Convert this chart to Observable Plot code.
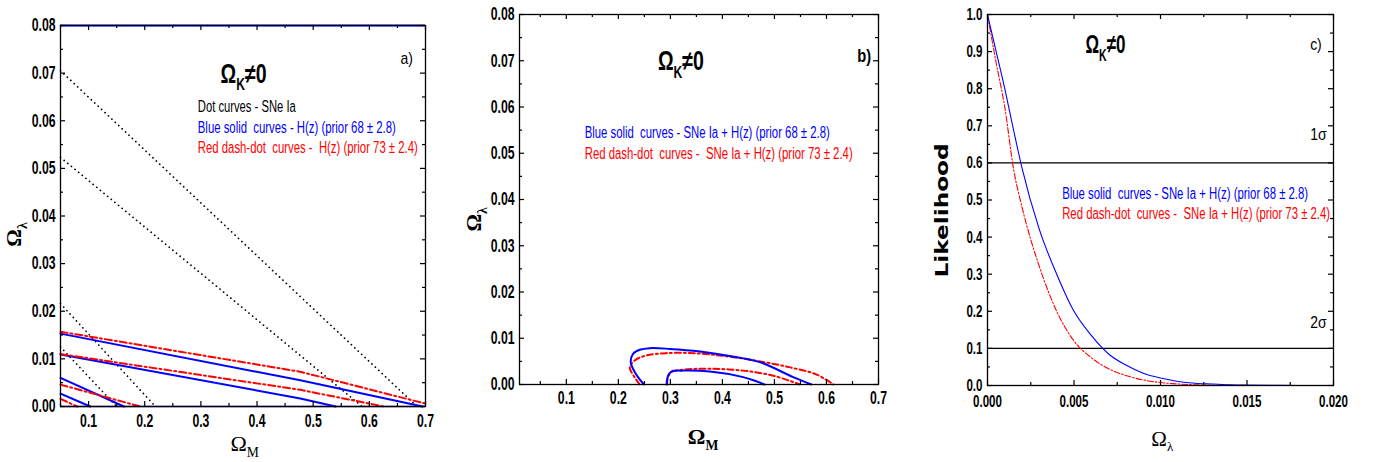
<!DOCTYPE html>
<html><head><meta charset="utf-8">
<script src="https://cdn.jsdelivr.net/npm/d3@7"></script>
<script src="https://cdn.jsdelivr.net/npm/@observablehq/plot@0.6"></script>
<style>
body{margin:0;background:#fff;}
#wrap{position:relative;width:1373px;height:462px;overflow:hidden;background:#fff;}
.panel{position:absolute;top:0;}
.panel svg{overflow:visible;}
</style></head><body><div id="wrap"></div>
<script>
// ---------------- data ----------------
// tick values
const omegaMTicks = [0.1, 0.2, 0.3, 0.4, 0.5, 0.6, 0.7];
const omegaMMinor = [0.05, 0.15, 0.25, 0.35, 0.45, 0.55, 0.65];
const omegaLTicks = [0, 0.01, 0.02, 0.03, 0.04, 0.05, 0.06, 0.07, 0.08];
const omegaLMinor = [0.005, 0.015, 0.025, 0.035, 0.045, 0.055, 0.065, 0.075];
const lambdaTicks = [0, 0.005, 0.010, 0.015, 0.020];
const lambdaMinor = [0.0025, 0.0075, 0.0125, 0.0175];
const likeTicks = [0, 0.1, 0.2, 0.3, 0.4, 0.5, 0.6, 0.7, 0.8, 0.9, 1.0];
const likeMinor = [0.05, 0.15, 0.25, 0.35, 0.45, 0.55, 0.65, 0.75, 0.85, 0.95];
const sigmaLevels = [0.6, 0.1];

// panel a) : SNe Ia dotted contours
const aSNe1 = [[0.05, 0.0705], [0.685, 0.0]];
const aSNe2 = [[0.05, 0.0523], [0.587, 0.0]];
const aSNe3 = [[0.05, 0.0216], [0.219, 0.0]];
const aSNe4 = [[0.05, 0.0125], [0.150, 0.0]];
// panel a) : H(z) prior 68 +- 2.8 (blue solid)
const aH68_1 = [[0.05, 0.0153], [0.477, 0.0055], [0.695, 0.0]];
const aH68_2 = [[0.05, 0.0109], [0.477, 0.0017], [0.540, 0.0]];
const aH68_3 = [[0.05, 0.0060], [0.163, 0.0]];
const aH68_4 = [[0.05, 0.0027], [0.103, 0.0]];
// panel a) : H(z) prior 73 +- 2.4 (red dash-dot)
const aH73_1 = [[0.05, 0.0157], [0.477, 0.0073], [0.700, 0.0006]];
const aH73_2 = [[0.05, 0.0110], [0.477, 0.0035], [0.626, 0.0]];
const aH73_3 = [[0.05, 0.0046], [0.192, 0.0]];
const aH73_4 = [[0.05, 0.0016], [0.080, 0.0]];

// panel b) : SNe Ia + H(z)
const bH68_outer = [[0.249, 0], [0.2316, 0.00266], [0.2238, 0.00483], [0.2283, 0.00664], [0.2412, 0.0075], [0.2605, 0.00786], [0.299, 0.0077], [0.357, 0.00714], [0.408, 0.00628], [0.472, 0.00483], [0.536, 0.00158], [0.571, 0]];
const bH68_inner = [[0.2937, 0], [0.2957, 0.00195], [0.302, 0.0028], [0.3245, 0.0030], [0.376, 0.0028], [0.440, 0.0016], [0.465, 0.0007], [0.481, 0]];
const bH73_outer = [[0.241, 0], [0.2252, 0.00266], [0.222, 0.0037], [0.2315, 0.0052], [0.254, 0.00628], [0.2926, 0.00678], [0.344, 0.00678], [0.408, 0.0061], [0.472, 0.0050], [0.530, 0.0037], [0.580, 0.0022], [0.6134, 0]];
const bH73_inner = [[0.2924, 0], [0.294, 0.0012], [0.302, 0.00266], [0.3245, 0.0032], [0.376, 0.0034], [0.440, 0.0030], [0.498, 0.0019], [0.549, 0]];

// panel c) : likelihood of Omega_lambda
const cLambda = [0, 0.0005, 0.001, 0.0015, 0.002, 0.003, 0.004, 0.005, 0.006, 0.007, 0.008, 0.009, 0.010, 0.011, 0.012, 0.013, 0.014, 0.015, 0.017, 0.019];
const cLike68 = [1.0, 0.90, 0.80, 0.69, 0.585, 0.42, 0.30, 0.20, 0.135, 0.085, 0.055, 0.033, 0.020, 0.011, 0.006, 0.004, 0.002, 0.001, 0.0003, 0.0];
const cLike73 = [1.0, 0.87, 0.75, 0.585, 0.48, 0.32, 0.20, 0.12, 0.075, 0.045, 0.027, 0.015, 0.008, 0.004, 0.002, 0.001, 0.0005, 0.0002, 0.0, 0.0];

// texts
const titleText = "Ω_{K}≠0";
const legendA = ["Dot curves - SNe Ia", "Blue solid  curves - H(z) (prior 68 ± 2.8)", "Red dash-dot  curves -  H(z) (prior 73 ± 2.4)"];
const legendBC = ["Blue solid  curves - SNe Ia + H(z) (prior 68 ± 2.8)", "Red dash-dot  curves -  SNe Ia + H(z) (prior 73 ± 2.4)"];

// ---------------- helpers ----------------
const NARROW = "'Liberation Sans Narrow','Arial Narrow','Liberation Sans',Arial,sans-serif";
const SERIF = "'Liberation Serif','Times New Roman',serif";
const BLUE = "#0000ff", RED = "#ff0000";

const toRows = (pts, key) => pts.map(([x, y]) => ({x, y, key}));

function frameTicks(xMaj, xMin, yMaj, yMin, W, H) {
  const L = 5, S = 3, sw = 1.2;
  return [
    Plot.ruleX(xMaj, {x: d => d, insetTop: H - L, strokeWidth: sw}),
    Plot.ruleX(xMaj, {x: d => d, insetBottom: H - L, strokeWidth: sw}),
    Plot.ruleX(xMin, {x: d => d, insetTop: H - S, strokeWidth: sw}),
    Plot.ruleX(xMin, {x: d => d, insetBottom: H - S, strokeWidth: sw}),
    Plot.ruleY(yMaj, {y: d => d, insetRight: W - L, strokeWidth: sw}),
    Plot.ruleY(yMaj, {y: d => d, insetLeft: W - L, strokeWidth: sw}),
    Plot.ruleY(yMin, {y: d => d, insetRight: W - S, strokeWidth: sw}),
    Plot.ruleY(yMin, {y: d => d, insetLeft: W - S, strokeWidth: sw})
  ];
}

// turn "A_{b}C" into tspans with subscripts
function richText(svg) {
  svg.querySelectorAll("text").forEach(t => {
    const s = t.textContent;
    if (!s.includes("_{")) return;
    const fs = parseFloat(getComputedStyle(t).fontSize) || 16;
    const ratio = 0.62;
    const shift = fs * 0.28;
    while (t.firstChild) t.removeChild(t.firstChild);
    const parts = s.split(/(_\{[^}]*\})/).filter(p => p.length);
    let down = false;
    for (const p of parts) {
      const ts = document.createElementNS("http://www.w3.org/2000/svg", "tspan");
      if (p.startsWith("_{")) {
        ts.textContent = p.slice(2, -1);
        ts.setAttribute("font-size", fs * ratio);
        ts.setAttribute("dy", shift);
        down = true;
      } else {
        ts.textContent = p;
        if (down) { ts.setAttribute("dy", -shift); down = false; }
      }
      t.appendChild(ts);
    }
  });
}

// emulate a condensed face: squeeze narrow-family texts horizontally
function narrowFit(svg, targets) {
  svg.querySelectorAll("text").forEach(t => {
    const key = t.textContent;
    const len = t.getComputedTextLength();
    let w = null;
    if (key in targets) w = targets[key];
    else if (getComputedStyle(t).fontFamily.includes("Narrow")) {
      w = len * (t.closest('[aria-label$="tick label"]') ? 0.68 : 0.82);
    }
    if (w != null && len > 0) {
      t.setAttribute("textLength", w);
      t.setAttribute("lengthAdjust", "spacingAndGlyphs");
    }
  });
}

function place(plot, left, targets) {
  const div = document.createElement("div");
  div.className = "panel";
  div.style.left = left + "px";
  div.appendChild(plot);
  document.getElementById("wrap").appendChild(div);
  richText(plot);
  narrowFit(plot, targets);
}

const tickFont = {fontWeight: "bold", fontSize: 18, fontFamily: NARROW};
const TITLE = "ΩK≠0";

// ---------------- panel a ----------------
{
  const W = 460, H = 462, mL = 60, mR = 35, mT = 25, mB = 56;
  const fw = W - mL - mR, fh = H - mT - mB;
  const dots = [aSNe1, aSNe2, aSNe3, aSNe4].flatMap((p, i) => toRows(p, "s" + i));
  const blues = [aH68_1, aH68_2, aH68_3, aH68_4].flatMap((p, i) => toRows(p, "b" + i));
  const reds = [aH73_1, aH73_2, aH73_3, aH73_4].flatMap((p, i) => toRows(p, "r" + i));
  const plot = Plot.plot({
    width: W, height: H, marginLeft: mL, marginRight: mR, marginTop: mT, marginBottom: mB,
    x: {domain: [0.05, 0.7]}, y: {domain: [0, 0.08]},
    style: {background: "white", color: "black"},
    marks: [
      Plot.line(dots, {x: "x", y: "y", z: "key", stroke: "black", strokeWidth: 1.7, strokeDasharray: "0.1,4.6", strokeLinecap: "round"}),
      Plot.line(blues, {x: "x", y: "y", z: "key", stroke: BLUE, strokeWidth: 2}),
      Plot.line(reds, {x: "x", y: "y", z: "key", stroke: RED, strokeWidth: 2, strokeDasharray: "7,3,2,3"}),
      Plot.ruleY([0.08], {stroke: BLUE, strokeWidth: 2.2}),
      Plot.ruleY([0], {stroke: "#1010a0", strokeWidth: 1.6}),
      Plot.frame({stroke: "black", strokeWidth: 1.3}),
      ...frameTicks(omegaMTicks, omegaMMinor, omegaLTicks, omegaLMinor, fw, fh),
      Plot.axisX({ticks: omegaMTicks, tickSize: 0, tickPadding: 8, tickFormat: d3.format(".1f"), label: null, ...tickFont}),
      Plot.axisY({ticks: omegaLTicks, tickSize: 0, tickPadding: 5, tickFormat: d3.format(".2f"), label: null, ...tickFont}),
      Plot.text([titleText], {x: 0.335, y: 0.068, text: d => d, textAnchor: "start", lineAnchor: "bottom", fontSize: 27, fontWeight: "bold", fontFamily: NARROW}),
      Plot.text(["a)"], {x: 0.6555, y: 0.072, text: d => d, textAnchor: "start", lineAnchor: "bottom", fontSize: 17, fontFamily: NARROW}),
      Plot.text(legendA, {x: 0.2945, y: (d, i) => [0.0618, 0.0574, 0.0532][i], text: d => d, fill: ["black", BLUE, RED], textAnchor: "start", lineAnchor: "bottom", fontSize: 16, fontFamily: NARROW}),
      Plot.text(["Ω_{M}"], {x: 0.3527, frameAnchor: "bottom", dy: 44, text: d => d, textAnchor: "start", lineAnchor: "bottom", fontSize: 22, fontFamily: SERIF}),
      Plot.text(["Ω_{λ}"], {y: 0.0361, frameAnchor: "left", dx: -40, text: d => d, rotate: -90, textAnchor: "middle", lineAnchor: "bottom", fontSize: 22, fontWeight: "bold", fontFamily: SERIF})
    ]
  });
  place(plot, 0, {[TITLE]: 46, [legendA[0]]: 98, [legendA[1]]: 198, [legendA[2]]: 220});
}

// ---------------- panel b ----------------
{
  const W = 460, H = 462, mL = 59, mR = 42, mT = 14, mB = 78;
  const fw = W - mL - mR, fh = H - mT - mB;
  const blues = [bH68_outer, bH68_inner].flatMap((p, i) => toRows(p, "b" + i));
  const reds = [bH73_outer, bH73_inner].flatMap((p, i) => toRows(p, "r" + i));
  const plot = Plot.plot({
    width: W, height: H, marginLeft: mL, marginRight: mR, marginTop: mT, marginBottom: mB,
    x: {domain: [0.01, 0.7]}, y: {domain: [0, 0.08]},
    style: {background: "white", color: "black"},
    marks: [
      Plot.line(reds, {x: "x", y: "y", z: "key", stroke: RED, strokeWidth: 2, strokeDasharray: "6,3,2,3", curve: "catmull-rom"}),
      Plot.line(blues, {x: "x", y: "y", z: "key", stroke: BLUE, strokeWidth: 2, curve: "catmull-rom"}),
      Plot.frame({stroke: "black", strokeWidth: 1.3}),
      ...frameTicks(omegaMTicks, omegaMMinor, omegaLTicks, omegaLMinor, fw, fh),
      Plot.axisX({ticks: omegaMTicks, tickSize: 0, tickPadding: 7, tickFormat: d3.format(".1f"), label: null, ...tickFont}),
      Plot.axisY({ticks: omegaLTicks, tickSize: 0, tickPadding: 5, tickFormat: d3.format(".2f"), label: null, ...tickFont}),
      Plot.text([titleText], {x: 0.276, y: 0.0679, text: d => d, textAnchor: "start", lineAnchor: "bottom", fontSize: 27, fontWeight: "bold", fontFamily: NARROW}),
      Plot.text(["b)"], {x: 0.659, y: 0.0697, text: d => d, textAnchor: "start", lineAnchor: "bottom", fontSize: 18, fontWeight: "bold", fontFamily: NARROW}),
      Plot.text(legendBC, {x: 0.1353, y: (d, i) => [0.0532, 0.0488][i], text: d => d, fill: [BLUE, RED], textAnchor: "start", lineAnchor: "bottom", fontSize: 16, fontFamily: NARROW}),
      Plot.text(["Ω_{M}"], {x: 0.3336, frameAnchor: "bottom", dy: 59, text: d => d, textAnchor: "start", lineAnchor: "bottom", fontSize: 22, fontWeight: "bold", fontFamily: SERIF}),
      Plot.text(["Ω_{λ}"], {y: 0.0357, frameAnchor: "left", dx: -39, text: d => d, rotate: -90, textAnchor: "middle", lineAnchor: "bottom", fontSize: 22, fontWeight: "bold", fontFamily: SERIF})
    ]
  });
  place(plot, 460, {[TITLE]: 46, [legendBC[0]]: 245, [legendBC[1]]: 268});
}

// ---------------- panel c ----------------
{
  const W = 458, H = 462, mL = 72, mR = 40, mT = 14, mB = 77;
  const fw = W - mL - mR, fh = H - mT - mB;
  const rows68 = cLambda.map((x, i) => ({x, y: cLike68[i]}));
  const rows73 = cLambda.map((x, i) => ({x, y: cLike73[i]}));
  const plot = Plot.plot({
    width: W, height: H, marginLeft: mL, marginRight: mR, marginTop: mT, marginBottom: mB,
    x: {domain: [0, 0.02]}, y: {domain: [0, 1]},
    style: {background: "white", color: "black"},
    marks: [
      Plot.ruleY(sigmaLevels, {stroke: "black", strokeWidth: 1.3}),
      Plot.line(rows73, {x: "x", y: "y", stroke: RED, strokeWidth: 1.1, strokeDasharray: "6,2,1.5,2", curve: "monotone-x"}),
      Plot.line(rows68, {x: "x", y: "y", stroke: BLUE, strokeWidth: 1.1, curve: "monotone-x"}),
      Plot.frame({stroke: "black", strokeWidth: 1.3}),
      ...frameTicks(lambdaTicks, lambdaMinor, likeTicks, likeMinor, fw, fh),
      Plot.axisX({ticks: lambdaTicks, tickSize: 0, tickPadding: 9, tickFormat: d3.format(".3f"), label: null, fontWeight: "bold", fontSize: 17, fontFamily: NARROW}),
      Plot.axisY({ticks: likeTicks, tickSize: 0, tickPadding: 5, tickFormat: d3.format(".1f"), label: null, fontWeight: "bold", fontSize: 17, fontFamily: NARROW}),
      Plot.text([titleText], {x: 0.00566, y: 0.895, text: d => d, textAnchor: "start", lineAnchor: "bottom", fontSize: 26, fontWeight: "bold", fontFamily: NARROW}),
      Plot.text(["c)"], {x: 0.01865, y: 0.903, text: d => d, textAnchor: "start", lineAnchor: "bottom", fontSize: 17, fontFamily: NARROW}),
      Plot.text(["1σ", "2σ"], {x: 0.01865, y: (d, i) => [0.661, 0.154][i], text: d => d, textAnchor: "start", lineAnchor: "bottom", fontSize: 17, fontFamily: NARROW}),
      Plot.text(legendBC, {x: 0.004314, y: (d, i) => [0.5036, 0.4498][i], text: d => d, fill: [BLUE, RED], textAnchor: "start", lineAnchor: "bottom", fontSize: 16, fontFamily: NARROW}),
      Plot.text(["Ω_{λ}"], {x: 0.00947, frameAnchor: "bottom", dy: 60, text: d => d, textAnchor: "start", lineAnchor: "bottom", fontSize: 21, fontFamily: SERIF}),
      Plot.text(["Likelihood"], {y: 0.472, frameAnchor: "left", dx: -40, text: d => d, rotate: -90, textAnchor: "middle", lineAnchor: "bottom", fontSize: 18, fontWeight: "bold", fontFamily: "'DejaVu Sans',Verdana,sans-serif"})
    ]
  });
  place(plot, 915, {[TITLE]: 40, [legendBC[0]]: 246, [legendBC[1]]: 268, "Likelihood": 134});
}
</script></body></html>
